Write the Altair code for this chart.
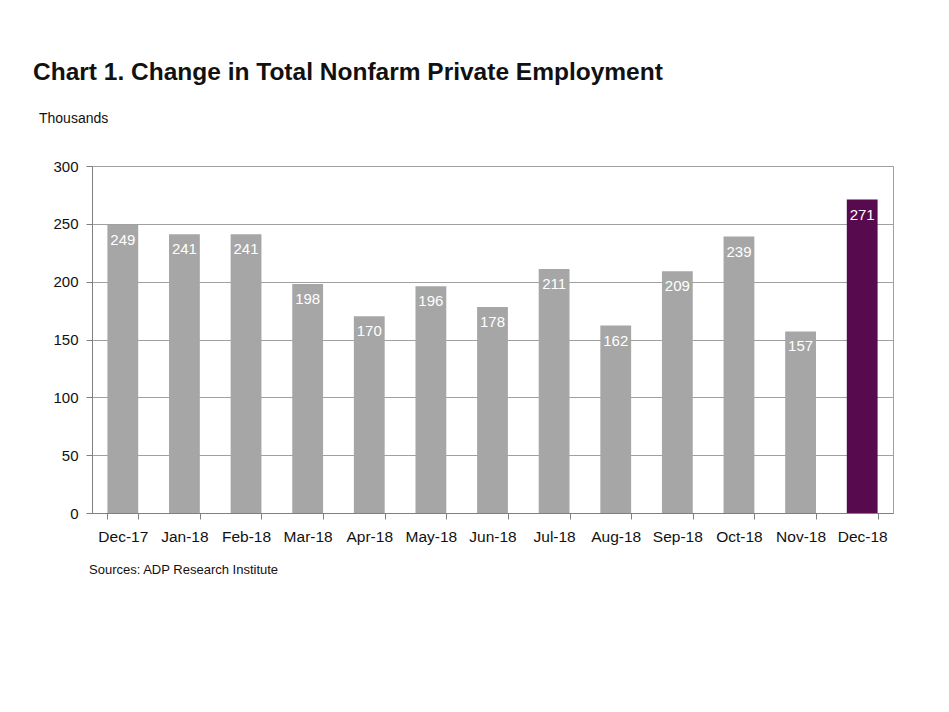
import altair as alt
import pandas as pd

months = ["Dec-17", "Jan-18", "Feb-18", "Mar-18", "Apr-18", "May-18", "Jun-18",
          "Jul-18", "Aug-18", "Sep-18", "Oct-18", "Nov-18", "Dec-18"]
values = [249, 241, 241, 198, 170, 196, 178, 211, 162, 209, 239, 157, 271]
highlight = [0, 0, 0, 0, 0, 0, 0, 0, 0, 0, 0, 0, 1]
y_ticks = [0, 50, 100, 150, 200, 250, 300]

df = pd.DataFrame({"month": months, "value": values, "hl": highlight})
one = pd.DataFrame({"k": [0]})

FONT = "Liberation Sans"

x = alt.X("month:N", sort=months, title=None,
          scale=alt.Scale(paddingInner=0.5, paddingOuter=0.25),
          axis=alt.Axis(labelAngle=0, labelFontSize=15.5, labelColor="#111",
                        labelPadding=10, tickBand="extent", tickSize=6,
                        tickColor="#808080", domainColor="#808080",
                        labelFont=FONT))
y = alt.Y("value:Q", title=None,
          scale=alt.Scale(domain=[0, 300], nice=False),
          axis=alt.Axis(values=y_ticks, labelFontSize=15, labelColor="#111",
                        labelPadding=8, tickSize=6, tickColor="#808080",
                        domainColor="#808080", gridColor="#a0a0a0",
                        labelFont=FONT))

bars = alt.Chart(df).mark_bar().encode(
    x=x, y=y,
    color=alt.Color("hl:N", scale=alt.Scale(domain=[0, 1], range=["#a6a6a6", "#570a4e"]),
                    legend=None),
)

labels = alt.Chart(df).mark_text(baseline="top", dy=8, color="white",
                                 fontSize=15, font=FONT).encode(
    x=alt.X("month:N", sort=months), y="value:Q", text="value:Q")

title = alt.Chart(one).mark_text(align="left", baseline="alphabetic", fontSize=24.5,
                                 fontWeight="bold", font=FONT, color="#111").encode(
    x=alt.value(-59), y=alt.value(-86),
    text=alt.value("Chart 1. Change in Total Nonfarm Private Employment"))

units = alt.Chart(one).mark_text(align="left", baseline="middle", fontSize=14,
                                 font=FONT, color="#111").encode(
    x=alt.value(-53), y=alt.value(-47), text=alt.value("Thousands"))

source = alt.Chart(one).mark_text(align="left", baseline="middle", fontSize=13,
                                  font=FONT, color="#111").encode(
    x=alt.value(-3), y=alt.value(404), text=alt.value("Sources: ADP Research Institute"))

chart = alt.layer(bars, labels, title, units, source).properties(
    width=801, height=347,
    autosize=alt.AutoSizeParams(type="none"),
    padding={"left": 84, "top": 158, "right": 40, "bottom": 180},
    background="white",
).configure_view(stroke="#a0a0a0", strokeWidth=1)

chart.save("out.html", embed_options={"renderer": "svg", "actions": False})
